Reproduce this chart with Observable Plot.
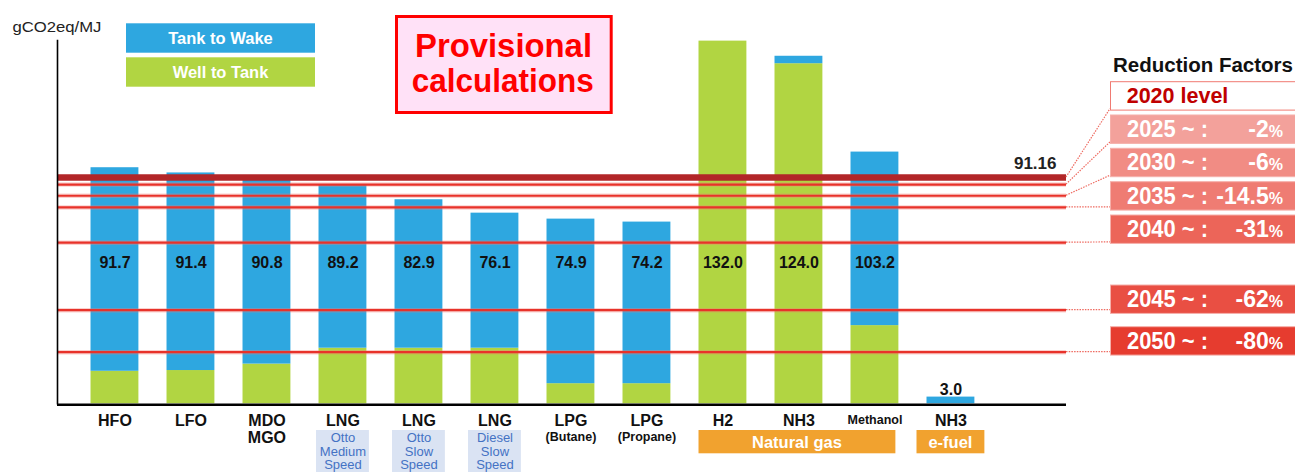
<!DOCTYPE html>
<html><head><meta charset="utf-8">
<script src="https://cdn.jsdelivr.net/npm/d3@7"></script>
<script src="https://cdn.jsdelivr.net/npm/@observablehq/plot@0.6"></script>
<style>
body{margin:0;background:#fff;font-family:"Liberation Sans",Arial,sans-serif;}
#wrap{width:1295px;height:472px;overflow:hidden;}
</style></head><body><div id="wrap"></div>
<script>
// ---- data ----
const fuelKeys = ["HFO","LFO","MDO/MGO","LNG Otto MS","LNG Otto SS","LNG Diesel SS","LPG Butane","LPG Propane","H2 (NG)","NH3 (NG)","Methanol (NG)","NH3 (e-fuel)"];
const tickLabels = ["HFO","LFO","MDO\nMGO","LNG","LNG","LNG","LPG","LPG","H2","NH3","Methanol","NH3"];
const subLabels = ["","","","","","","(Butane)","(Propane)","","","",""];
const engineLabels = ["","","","Otto\nMedium\nSpeed","Otto\nSlow\nSpeed","Diesel\nSlow\nSpeed","","","","","",""];
const wellToTank = [13.1, 13.4, 16.0, 22.4, 22.4, 22.4, 8.1, 8.1, 146.1, 137.0, 31.5, 0];
const tankToWake = [82.0, 79.6, 74.3, 65.5, 59.8, 54.4, 66.3, 65.1, 0, 3.0, 69.9, 2.7];
const valueLabels = ["91.7","91.4","90.8","89.2","82.9","76.1","74.9","74.2","132.0","124.0","103.2","3.0"];
const groupNames = ["Natural gas","e-fuel"];
const groupStart = [8, 11];
const groupEnd = [10, 11];
const baseline2020 = 91.16;
const targetYears = ["2025","2030","2035","2040","2045","2050"];
const targetPct = ["-2","-6","-14.5","-31","-62","-80"];
const targetLevels = [88.3, 83.8, 79.1, 64.9, 37.7, 20.8];
const seriesNames = ["Tank to Wake","Well to Tank"];

// ---- table for the library ----
const rows = [];
fuelKeys.forEach((k, i) => {
  rows.push({i, part: "Well to Tank", v: wellToTank[i]});
  rows.push({i, part: "Tank to Wake", v: tankToWake[i]});
});
const idx = d3.range(fuelKeys.length);
const FONT = "Liberation Sans, Arial, sans-serif";

const chart = Plot.plot({
  width: 1295, height: 472,
  marginLeft: 57, marginRight: 229, marginTop: 40, marginBottom: 68.7,
  x: {type: "band", domain: idx, range: [62.4, 1002.5], padding: 0.37, round: false, axis: null},
  y: {domain: [0, 146.35], axis: null},
  color: {domain: seriesNames, range: ["#2ea7e0", "#b1d542"]},
  style: {fontFamily: FONT, background: "white", overflow: "visible"},
  marks: [
    Plot.barY(rows, {x: "i", y: "v", fill: "part", order: ["Well to Tank", "Tank to Wake"]}),
    Plot.ruleY(targetLevels, {stroke: "#f07a72", strokeWidth: 4.5, strokeOpacity: 0.35}),
    Plot.ruleY(targetLevels, {stroke: "#e8322a", strokeWidth: 2.2}),
    Plot.ruleY([baseline2020], {stroke: "#b22628", strokeWidth: 6.5}),
    Plot.ruleY([0], {stroke: "#000", strokeWidth: 2.6, dy: 1}),
    Plot.frame({anchor: "left", stroke: "#000", strokeWidth: 1.6}),
    Plot.text([baseline2020], {y: d => d, text: d => d.toFixed(2), frameAnchor: "right", textAnchor: "end", dx: -10, dy: -14, fontWeight: "bold", fontSize: 17, fill: "#222"}),
    Plot.text(idx.filter(i => tankToWake[i] + wellToTank[i] > 50), {x: d => d, y: 56.9, text: d => valueLabels[d], fontWeight: "bold", fontSize: 16, fill: "#111"}),
    Plot.text(idx.filter(i => tankToWake[i] + wellToTank[i] <= 50), {x: d => d, y: d => tankToWake[d] + wellToTank[d], text: d => valueLabels[d], dy: -7, fontWeight: "bold", fontSize: 16, fill: "#111"}),
    Plot.text(idx.filter(i => tickLabels[i] !== "Methanol"), {x: d => d, y: 0, text: d => tickLabels[d], lineAnchor: "top", dy: 10, lineHeight: 1.08, fontWeight: "bold", fontSize: 16, fill: "#111"}),
    Plot.text(idx.filter(i => tickLabels[i] === "Methanol"), {x: d => d, y: 0, text: d => tickLabels[d], lineAnchor: "top", dy: 11, fontWeight: "bold", fontSize: 12.5, fill: "#111"}),
    Plot.text(idx.filter(i => subLabels[i]), {x: d => d, y: 0, text: d => subLabels[d], lineAnchor: "top", dy: 28, fontWeight: "bold", fontSize: 12.5, fill: "#111"}),
    Plot.text(idx.filter(i => engineLabels[i]), {x: d => d, y: 0, text: d => engineLabels[d], lineAnchor: "top", dy: 29, lineHeight: 1.04, fontSize: 13, fill: "#4472c4"})
  ]
});
document.getElementById("wrap").appendChild(chart);

// ---- annotations placed with the chart's own scales ----
const sx = chart.scale("x"), sy = chart.scale("y");
const bw = sx.bandwidth;
const svg = d3.select(chart);
const under = svg.insert("g", ":first-child");
idx.filter(i => engineLabels[i]).forEach(i => {
  under.append("rect").attr("x", sx.apply(i) - 2.5).attr("y", 430).attr("width", bw + 5).attr("height", 45).attr("fill", "#dae3f3");
});
const ann = svg.append("g").attr("font-family", FONT).attr("text-anchor", "start");
groupNames.forEach((g, j) => {
  const pad = groupStart[j] === groupEnd[j] ? 10 : 0;
  const x0 = sx.apply(groupStart[j]) - pad, x1 = sx.apply(groupEnd[j]) + bw + pad - (pad ? 0 : 3);
  ann.append("rect").attr("x", x0).attr("y", 430).attr("width", x1 - x0).attr("height", 23.3).attr("fill", "#f1a22f");
  ann.append("text").attr("x", (x0 + x1) / 2).attr("y", 442).attr("dy", "0.35em").attr("text-anchor", "middle")
    .attr("fill", "#fff").attr("font-weight", "bold").attr("font-size", 16.5).text(g);
});

// y axis unit label
ann.append("text").attr("x", 12.4).attr("y", 27).attr("dy", "0.35em").attr("font-size", 14.5)
  .attr("textLength", 89).attr("lengthAdjust", "spacingAndGlyphs").attr("fill", "#222").text("gCO2eq/MJ");

// legend
const legendFill = ["#2ea7e0", "#b1d542"];
const legendTop = [23.3, 57.3];
seriesNames.forEach((s, j) => {
  ann.append("rect").attr("x", 126).attr("y", legendTop[j]).attr("width", 189).attr("height", 29.4).attr("fill", legendFill[j]);
  ann.append("text").attr("x", 220.5).attr("y", legendTop[j] + 14.7).attr("dy", "0.35em").attr("text-anchor", "middle")
    .attr("fill", "#fff").attr("font-weight", "bold").attr("font-size", 16.5).text(s);
});

// provisional box
ann.append("rect").attr("x", 396.5).attr("y", 16.5).attr("width", 214.7).attr("height", 96)
  .attr("fill", "#ffe1f7").attr("stroke", "#ff0000").attr("stroke-width", 3);
ann.append("text").attr("x", 415).attr("y", 56.7).attr("font-size", 34).attr("font-weight", "bold").attr("fill", "#ff0000")
  .attr("textLength", 177).attr("lengthAdjust", "spacingAndGlyphs").text("Provisional");
ann.append("text").attr("x", 411.7).attr("y", 91.7).attr("font-size", 34).attr("font-weight", "bold").attr("fill", "#ff0000")
  .attr("textLength", 182).attr("lengthAdjust", "spacingAndGlyphs").text("calculations");

// reduction factor panel
ann.append("text").attr("x", 1113).attr("y", 72).attr("font-size", 19.5).attr("font-weight", "bold").attr("fill", "#111")
  .attr("textLength", 180).attr("lengthAdjust", "spacingAndGlyphs").text("Reduction Factors");
const boxTops = [81.7, 115, 148.3, 181.7, 215, 285, 326.7];
const boxH = 28.4;
const boxFills = ["#ffffff", "#f3a19b", "#f18c84", "#ef7c73", "#ec6559", "#e94f43", "#e63c2f"];
const levels = [baseline2020, ...targetLevels];
const lineEnd = 1295 - 229;
levels.forEach((lv, j) => {
  const ly = sy.apply(lv);
  const ty = Math.min(ly, boxTops[j] + boxH - 1.5);
  ann.append("line").attr("x1", lineEnd).attr("y1", ly).attr("x2", 1110).attr("y2", ty)
    .attr("stroke", "#ee6a60").attr("stroke-width", 1.2).attr("stroke-dasharray", "1.5,1.2");
  ann.append("rect").attr("x", 1110.5).attr("y", boxTops[j]).attr("width", 190).attr("height", boxH)
    .attr("fill", boxFills[j]).attr("stroke", j === 0 ? "#f07a72" : "#f6b0aa").attr("stroke-width", 1);
  if (j === 0) {
    ann.append("text").attr("x", 1126.7).attr("y", boxTops[j] + 21.6).attr("font-size", 21.5).attr("font-weight", "bold")
      .attr("fill", "#c00000").text("2020 level");
  } else {
    ann.append("text").attr("x", 1127).attr("y", boxTops[j] + 21.8).attr("font-size", 23).attr("font-weight", "bold")
      .attr("textLength", 81).attr("lengthAdjust", "spacingAndGlyphs")
      .attr("fill", "#fff").text(targetYears[j - 1] + " ~ :");
    const t = ann.append("text").attr("x", 1283).attr("y", boxTops[j] + 21.8).attr("text-anchor", "end")
      .attr("font-weight", "bold").attr("fill", "#fff");
    t.append("tspan").attr("font-size", 23).text(targetPct[j - 1]);
    t.append("tspan").attr("font-size", 16).text("%");
  }
});
</script></body></html>
